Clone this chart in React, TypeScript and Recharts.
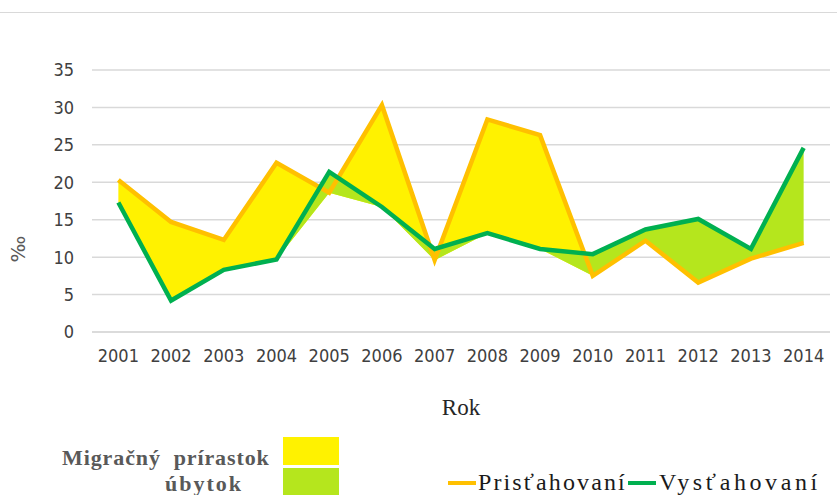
import React from 'react';
import { ComposedChart, Area, Line, XAxis, YAxis, CartesianGrid } from 'recharts';

const years = ['2001', '2002', '2003', '2004', '2005', '2006', '2007', '2008', '2009', '2010', '2011', '2012', '2013', '2014'];
const prisahovani = [20.3, 14.7, 12.3, 22.6, 18.6, 30.3, 9.6, 28.4, 26.3, 7.5, 12.2, 6.6, 9.8, 11.9];
const vystahovani = [17.3, 4.2, 8.3, 9.7, 21.4, 16.7, 11.1, 13.2, 11.1, 10.4, 13.7, 15.1, 11.1, 24.6];
const yTicks = [0, 5, 10, 15, 20, 25, 30, 35];

const seriesNames = ['Prisťahovaní', 'Vysťahovaní'];
const areaNames = ['Migračný  prírastok', 'úbytok'];
const axisTitles = { x: 'Rok', y: '‰' };

const COLORS = {
  pris: '#FFC000',
  vys: '#00B050',
  gain: '#FFF200',
  loss: '#B5E61D',
  grid: '#d9d9d9',
};

const data = years.map((year, i) => {
  const p = prisahovani[i];
  const v = vystahovani[i];
  const lo = Math.min(p, v);
  return {
    year,
    p,
    v,
    gain: [lo, p > v ? p : lo],
    loss: [lo, v > p ? v : lo],
  };
});

const tickFont = {
  fontFamily: '"DejaVu Sans Condensed", "DejaVu Sans", sans-serif',
  fontSize: 18,
  fill: '#404040',
};

const RokLabel = (props: any) => {
  const vb = props.viewBox || {};
  return (
    <text
      x={vb.x + vb.width / 2}
      y={vb.y + 75}
      textAnchor="middle"
      dominantBaseline="central"
      style={{ fontFamily: '"Liberation Serif", serif', fontSize: 23, fill: '#262626' }}
    >
      {axisTitles.x}
    </text>
  );
};

const PermilleLabel = (props: any) => {
  const vb = props.viewBox || {};
  const cx = vb.x + 18;
  const cy = vb.y + 179;
  return (
    <text
      x={cx}
      y={cy}
      transform={`rotate(-90 ${cx} ${cy})`}
      textAnchor="middle"
      dominantBaseline="central"
      style={{ fontFamily: '"DejaVu Sans", sans-serif', fontSize: 20, fill: '#595959' }}
    >
      {axisTitles.y}
    </text>
  );
};

const serif = '"Liberation Serif", "Times New Roman", serif';

export default function App() {
  return (
    <div style={{ position: 'absolute', left: 0, top: 0, width: 837, height: 495, background: '#fff', overflow: 'hidden' }}>
      <div style={{ position: 'absolute', left: 0, top: 12, width: 837, height: 1, background: COLORS.grid }} />
      <ComposedChart width={837} height={495} data={data} margin={{ top: 70, right: 7, bottom: 133, left: 0 }}>
        <CartesianGrid horizontal vertical={false} stroke={COLORS.grid} strokeWidth={1.5} />
        <XAxis
          dataKey="year"
          scale="band"
          interval={0}
          height={30}
          axisLine={{ stroke: COLORS.grid, strokeWidth: 1.5 }}
          tickLine={false}
          tickSize={0}
          tickMargin={17}
          tick={tickFont}
          label={<RokLabel />}
        />
        <YAxis
          domain={[0, 35]}
          ticks={yTicks}
          width={92}
          axisLine={false}
          tickLine={false}
          tickSize={0}
          tickMargin={18}
          tick={tickFont}
          label={<PermilleLabel />}
        />
        <Area dataKey="gain" fill={COLORS.gain} fillOpacity={1} stroke="none" isAnimationActive={false} />
        <Area dataKey="loss" fill={COLORS.loss} fillOpacity={1} stroke="none" isAnimationActive={false} />
        <Line dataKey="p" stroke={COLORS.pris} strokeWidth={4.5} dot={false} isAnimationActive={false} />
        <Line dataKey="v" stroke={COLORS.vys} strokeWidth={4.5} dot={false} isAnimationActive={false} />
      </ComposedChart>

      <div style={{ position: 'absolute', left: 62, top: 447, fontFamily: serif, fontWeight: 'bold', fontSize: 22, lineHeight: '22px', color: '#595959', whiteSpace: 'pre', letterSpacing: 0.9 }}>
        {areaNames[0]}
      </div>
      <div style={{ position: 'absolute', left: 165, top: 473, fontFamily: serif, fontWeight: 'bold', fontSize: 22, lineHeight: '22px', color: '#595959', whiteSpace: 'pre', letterSpacing: 2 }}>
        {areaNames[1]}
      </div>
      <div style={{ position: 'absolute', left: 283, top: 437, width: 56, height: 28, background: COLORS.gain }} />
      <div style={{ position: 'absolute', left: 283, top: 468, width: 56, height: 27, background: COLORS.loss }} />

      <div style={{ position: 'absolute', left: 448, top: 481, width: 28, height: 4, background: COLORS.pris }} />
      <div style={{ position: 'absolute', left: 478, top: 470, fontFamily: serif, fontSize: 24, lineHeight: '24px', color: '#1a1a1a', whiteSpace: 'pre', letterSpacing: 2.1 }}>
        {seriesNames[0]}
      </div>
      <div style={{ position: 'absolute', left: 628, top: 481, width: 28, height: 4, background: COLORS.vys }} />
      <div style={{ position: 'absolute', left: 659, top: 470, fontFamily: serif, fontSize: 24, lineHeight: '24px', color: '#1a1a1a', whiteSpace: 'pre', letterSpacing: 3.6 }}>
        {seriesNames[1]}
      </div>
    </div>
  );
}
